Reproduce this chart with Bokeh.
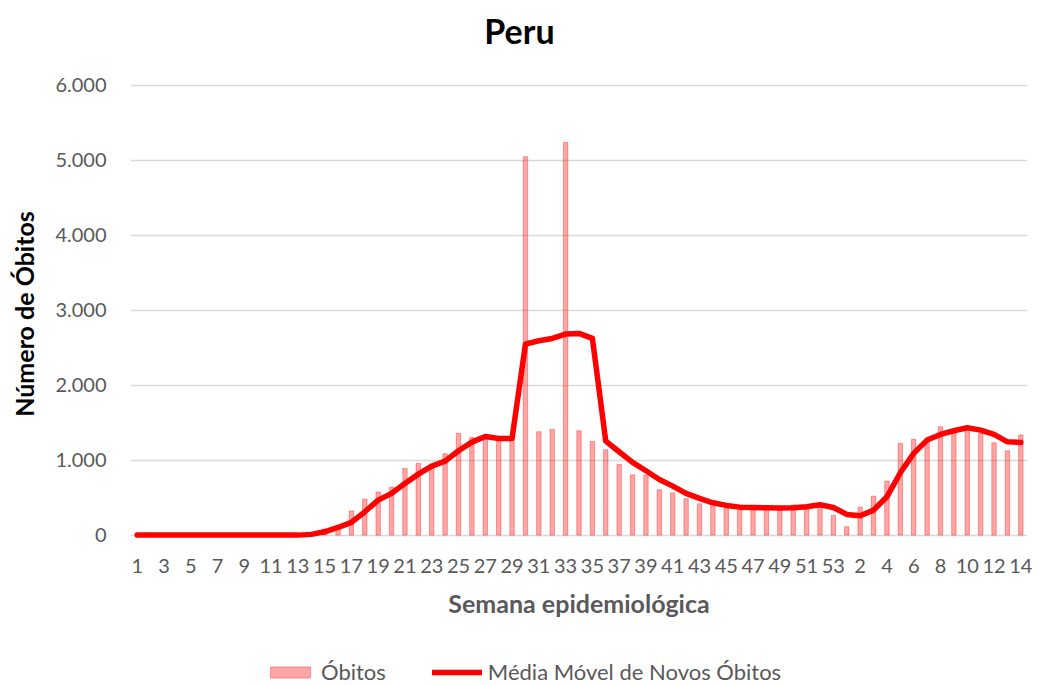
from bokeh.plotting import figure
from bokeh.models import ColumnDataSource, FixedTicker, Legend, LegendItem, Label
from bokeh.layouts import column
from bokeh.embed import file_html
from bokeh.resources import INLINE

# ---------------- data ----------------
weeks_2020 = [str(w) for w in range(1, 54)]
weeks_2021 = [str(w) for w in range(1, 15)]
week_labels = weeks_2020 + weeks_2021

obitos = [
    0, 0, 0, 0, 0, 0, 0, 0, 0, 0, 0, 3, 10, 20, 80, 95, 320, 480, 575, 640,
    889, 956, 905, 1085, 1356, 1302, 1278, 1276, 1280, 5045, 1378, 1409, 5232, 1391, 1249, 1138, 942, 804, 800, 604,
    564, 484, 418, 390, 369, 356, 356, 342, 356, 400, 390, 413, 262,
    111, 373, 520, 720, 1222, 1276, 1248, 1444, 1378, 1405, 1356, 1231, 1124, 1335,
]
media_movel = [
    0, 0, 0, 0, 0, 0, 0, 0, 0, 0, 0, 0, 0, 10, 44, 102, 169, 311, 467, 556,
    689, 813, 920, 987, 1124, 1240, 1315, 1289, 1289, 2547, 2591, 2622, 2680, 2689, 2622, 1253, 1111, 969, 858, 742,
    653, 556, 489, 431, 396, 373, 369, 364, 360, 364, 378, 404, 369,
    276, 258, 333, 511, 831, 1089, 1267, 1342, 1391, 1431, 1400, 1342, 1244, 1236,
]
y_ticks = [0, 1000, 2000, 3000, 4000, 5000, 6000]
y_tick_labels = ["0", "1.000", "2.000", "3.000", "4.000", "5.000", "6.000"]

title_text = "Peru"
x_title = "Semana epidemiológica"
y_title = "Número de  Óbitos"
legend_bar = "Óbitos"
legend_line = "Média Móvel de Novos Óbitos"

# ---------------- styles ----------------
FONT = "Lato"
GREY = "#595959"
BAR_STYLE = dict(fill_color="#FF0000", fill_alpha=0.35, line_color="#FF0000", line_alpha=0.35, line_width=1)
LINE_STYLE = dict(line_color="#FF0000", line_width=5.5, line_join="round", line_cap="round")
W = 1034
BL, BR = 130, 7          # left / right borders shared by all strips
FRAME_W = W - BL - BR

idx = list(range(1, len(week_labels) + 1))
src = ColumnDataSource(dict(x=idx, obitos=obitos, mm=media_movel))


def strip(height, xr, yr):
    f = figure(width=W, height=height, output_backend="svg", toolbar_location=None,
               x_range=xr, y_range=yr,
               min_border_left=BL, min_border_right=BR, min_border_top=0, min_border_bottom=0)
    f.axis.visible = False
    f.grid.visible = False
    f.outline_line_color = None
    f.background_fill_color = "white"
    f.border_fill_color = "white"
    return f


# ---------------- title strip ----------------
T_H = 63
t = strip(T_H, (0, FRAME_W), (0, T_H))
t.add_layout(Label(x=519 - BL, y=T_H - 30, text=title_text, text_font=FONT,
                   text_font_style="bold", text_font_size="34px", text_color="black",
                   text_align="center", text_baseline="middle"))

# ---------------- main figure ----------------
p = figure(width=W, height=582, output_backend="svg", toolbar_location=None,
           x_range=(0.5, len(week_labels) + 0.5), y_range=(-45, 6020),
           min_border_left=BL, min_border_right=BR, min_border_top=20, min_border_bottom=107)
p.title.text = ""
p.outline_line_color = None
p.background_fill_color = "white"
p.border_fill_color = "white"

p.vbar(x="x", top="obitos", width=0.33, bottom=0, source=src, **BAR_STYLE)
p.line(x="x", y="mm", source=src, **LINE_STYLE)

p.xaxis.ticker = FixedTicker(ticks=idx[::2])
p.xaxis.major_label_overrides = {i: week_labels[i - 1] for i in idx}
p.yaxis.ticker = FixedTicker(ticks=y_ticks)
p.yaxis.major_label_overrides = {tk: lb for tk, lb in zip(y_ticks, y_tick_labels)}
for ax in (p.xaxis[0], p.yaxis[0]):
    ax.axis_line_color = None
    ax.major_tick_line_color = None
    ax.minor_tick_line_color = None
    ax.major_tick_in = 0
    ax.major_tick_out = 0
    ax.major_label_text_font = FONT
    ax.major_label_text_font_size = "20px"
    ax.major_label_text_color = GREY
    ax.axis_label_text_font = FONT
    ax.axis_label_text_font_style = "bold"
    ax.axis_label_text_font_size = "25px"

p.xaxis.major_label_standoff = 20
p.yaxis.major_label_standoff = 24
p.xaxis.axis_label = x_title
p.xaxis.axis_label_text_color = GREY
p.xaxis.axis_label_standoff = 12
p.yaxis.axis_label = y_title
p.yaxis.axis_label_text_color = "black"
p.yaxis.axis_label_standoff = 13

p.xgrid.grid_line_color = None
p.ygrid.grid_line_color = "#D9D9D9"
p.ygrid.grid_line_width = 1.3
p.ygrid.ticker = FixedTicker(ticks=y_ticks)

# ---------------- legend strip ----------------
# the data lie just outside this strip's ranges, so only the legend keys show
q = strip(40, (100, 200), (10000, 20000))
bar_key = q.vbar(x="x", top="obitos", width=0.33, source=src, **BAR_STYLE)
line_key = q.line(x="x", y="mm", source=src, **LINE_STYLE)

legend = Legend(items=[LegendItem(label=legend_bar, renderers=[bar_key]),
                       LegendItem(label=legend_line, renderers=[line_key])],
                orientation="horizontal", location=(265 - BL, 0),
                glyph_width=50, glyph_height=14, label_standoff=6, spacing=46,
                padding=0, margin=0, border_line_color=None, background_fill_alpha=0,
                label_text_font=FONT, label_text_font_size="22px", label_text_color=GREY)
q.add_layout(legend, "center")

layout = column(t, p, q, spacing=0)
open("out.html", "w").write(file_html(layout, INLINE))
